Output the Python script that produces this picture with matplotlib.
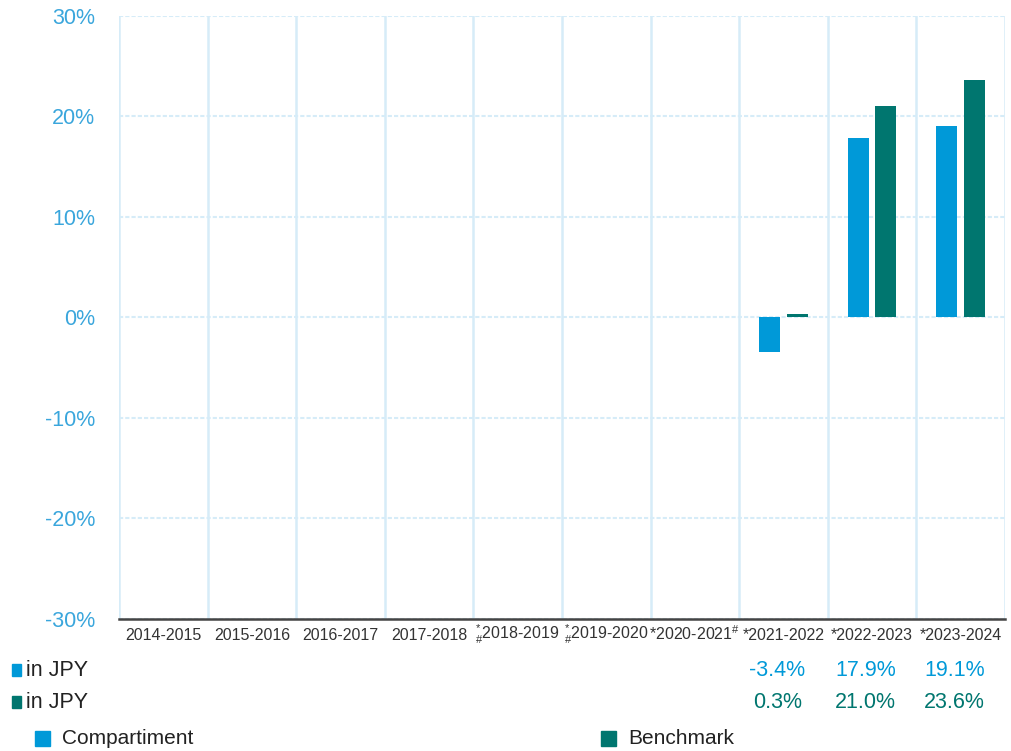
import numpy as np
import matplotlib.pyplot as plt
import matplotlib.transforms as mtransforms
from matplotlib.patches import Rectangle

plt.rcParams['font.family'] = ['Liberation Sans', 'DejaVu Sans']
plt.rcParams['mathtext.fontset'] = 'custom'
plt.rcParams['mathtext.rm'] = 'Liberation Sans'
plt.rcParams['mathtext.it'] = 'Liberation Sans'

# data
periods = ['2014-2015', '2015-2016', '2016-2017', '2017-2018',
           r'$^{*}_{\#}$2018-2019', r'$^{*}_{\#}$2019-2020',
           r'*2020-2021$^{\#}$', '*2021-2022', '*2022-2023', '*2023-2024']
compartiment = [np.nan] * 7 + [-3.4, 17.9, 19.1]
benchmark = [np.nan] * 7 + [0.3, 21.0, 23.6]
yticks = [-30, -20, -10, 0, 10, 20, 30]

c_comp = '#0099d8'
c_bench = '#00766f'
c_tick = '#3aa6dc'
c_grid = '#d6ecf8'

fig = plt.figure(figsize=(10.11, 7.51), dpi=100)
ax = fig.add_axes([0.1177, 0.1758, 0.8763, 0.8029])

x = np.arange(len(periods))
w = 0.235
ax.bar(x - 0.155, compartiment, width=w, color=c_comp, zorder=3)
ax.bar(x + 0.155, benchmark, width=w, color=c_bench, zorder=3)

ax.set_xlim(-0.5, len(periods) - 0.5)
ax.set_ylim(-30, 30)
ax.set_yticks(yticks)
ax.set_yticklabels([f'{v}%' for v in yticks], color=c_tick, fontsize=15.5)
ax.set_xticks(x)
ax.set_xticklabels(periods, fontsize=11.5, color='#333333', va='baseline')
ax.tick_params(axis='both', length=0)
ax.tick_params(axis='y', pad=17)
ax.tick_params(axis='x', pad=15)

# grid
for yv in yticks:
    ax.axhline(yv, color=c_grid, lw=1.5, ls=(0, (2, 1)), zorder=1)
for b in np.arange(-0.5, len(periods), 1.0):
    ax.axvline(b, color=c_grid, lw=1.8, zorder=1)
for s in ['top', 'right', 'left']:
    ax.spines[s].set_visible(False)
ax.spines['bottom'].set_color('#444444')
ax.spines['bottom'].set_linewidth(1.8)
ax.spines['bottom'].set_zorder(4)

# table rows under chart
trans = mtransforms.blended_transform_factory(ax.transData, fig.transFigure)
rows = [(compartiment, c_comp, 1 - 670 / 751), (benchmark, c_bench, 1 - 702 / 751)]
for vals, col, yy in rows:
    fig.patches.append(Rectangle((12 / 1011, yy - 6 / 751), 9 / 1011, 12 / 751,
                                 transform=fig.transFigure, color=col))
    fig.text(26 / 1011, yy, 'in JPY', fontsize=15.5, color='#222222', va='center')
    for i, v in enumerate(vals):
        if not np.isnan(v):
            ax.text(i - 0.07, yy, f'{v:.1f}%', transform=trans, fontsize=15.5,
                    color=col, ha='center', va='center')

# legend
ly = 1 - 738 / 751
for xs, col, lab in [(35, c_comp, 'Compartiment'), (601, c_bench, 'Benchmark')]:
    fig.patches.append(Rectangle((xs / 1011, ly - 8 / 751), 15 / 1011, 15 / 751,
                                 transform=fig.transFigure, color=col))
    fig.text((xs + 27) / 1011, ly, lab, fontsize=15, color='#222222', va='center')

fig.savefig('out.png', dpi=100)
